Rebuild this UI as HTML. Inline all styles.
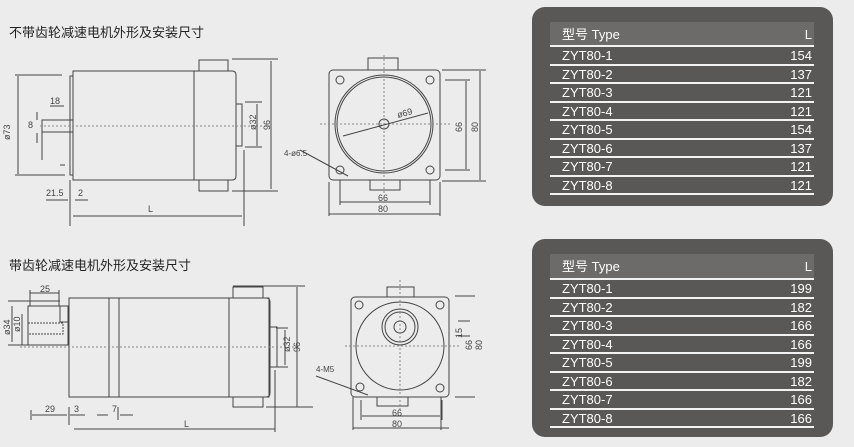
<!DOCTYPE html><html><head><meta charset="utf-8"><style>
body{margin:0;width:854px;height:447px;background:#ececec;position:relative;overflow:hidden;font-family:"Liberation Sans","Noto Sans CJK SC",sans-serif}
.t{position:absolute;font-size:13px;color:#222}
.box{position:absolute;left:532px;width:301px;background:#5a5856;border-radius:13px}
.hd{position:absolute;left:18px;width:264px;height:24px;background:#6c6b69;color:#fff;font-size:13px;line-height:26px}
.r{position:absolute;left:18px;width:264px;height:16px;border-top:2px solid #f2f2f2;color:#fff;font-size:13px;line-height:17px}
.r span,.hd span{position:absolute;right:2px}
.r b,.hd b{font-weight:normal;position:absolute;left:12px}
svg{position:absolute;left:0;top:0}
</style></head><body>
<div class="t" style="left:9px;top:22px">不带齿轮减速电机外形及安装尺寸</div>
<div class="t" style="left:9px;top:255px">带齿轮减速电机外形及安装尺寸</div>

<div class="box" style="top:7px;height:199px">
<div class="hd" style="top:15px"><b>型号 Type</b><span>L</span></div>
<div class="r" style="top:38px"><b>ZYT80-1</b><span>154</span></div>
<div class="r" style="top:56.5px"><b>ZYT80-2</b><span>137</span></div>
<div class="r" style="top:75px"><b>ZYT80-3</b><span>121</span></div>
<div class="r" style="top:93.5px"><b>ZYT80-4</b><span>121</span></div>
<div class="r" style="top:112px"><b>ZYT80-5</b><span>154</span></div>
<div class="r" style="top:130.5px"><b>ZYT80-6</b><span>137</span></div>
<div class="r" style="top:149px"><b>ZYT80-7</b><span>121</span></div>
<div class="r" style="top:167.5px"><b>ZYT80-8</b><span>121</span></div>
<div class="r" style="top:186px;height:0"></div>
</div>
<div class="box" style="top:239px;height:198px">
<div class="hd" style="top:15px"><b>型号 Type</b><span>L</span></div>
<div class="r" style="top:39px"><b>ZYT80-1</b><span>199</span></div>
<div class="r" style="top:57.5px"><b>ZYT80-2</b><span>182</span></div>
<div class="r" style="top:76px"><b>ZYT80-3</b><span>166</span></div>
<div class="r" style="top:94.5px"><b>ZYT80-4</b><span>166</span></div>
<div class="r" style="top:113px"><b>ZYT80-5</b><span>199</span></div>
<div class="r" style="top:131.5px"><b>ZYT80-6</b><span>182</span></div>
<div class="r" style="top:150px"><b>ZYT80-7</b><span>166</span></div>
<div class="r" style="top:168.5px"><b>ZYT80-8</b><span>166</span></div>
<div class="r" style="top:187px;height:0"></div>
</div>

<svg width="520" height="447" fill="none" stroke="#444" stroke-width="1" font-family="Liberation Sans" font-size="9">
<!-- top side view -->
<rect x="73" y="71" width="121" height="109"/>
<path d="M194 71H232Q236 71 236 75V176Q236 180 232 180H194"/>
<rect x="70" y="76" width="3" height="99"/>
<rect x="199" y="60" width="29" height="11"/><rect x="199" y="180" width="29" height="11"/>
<rect x="236" y="104" width="6" height="42"/>
<rect x="42" y="120" width="31" height="12"/>
<path d="M40 126H270" stroke-dasharray="2 2" stroke="#888"/>
<path d="M15 75H62M15 175H65M232 59H278M232 191H278M245 102H262M245 147H262M42 132V160M70 180V226M244 150V226M60 165H65"/>
<path d="M18 76V174M271 61V189M257 104V146M73 216H242M46 200H68M75 200H88M37 112V120M37 133V143M50 106H64"/>
<text x="10" y="140" transform="rotate(-90 10 140)" fill="#444" stroke="none">ø73</text>
<text x="28" y="128" fill="#444" stroke="none">8</text>
<text x="50" y="104" fill="#444" stroke="none">18</text>
<text x="46" y="196" fill="#444" stroke="none">21.5</text>
<text x="78" y="196" fill="#444" stroke="none">2</text>
<text x="148" y="212" fill="#444" stroke="none">L</text>
<text x="256" y="130" transform="rotate(-90 256 130)" fill="#444" stroke="none">ø32</text>
<text x="270" y="130" transform="rotate(-90 270 130)" fill="#444" stroke="none">96</text>
<!-- top front view -->
<rect x="329" y="70" width="111" height="110" rx="4"/>
<rect x="368" y="58" width="30" height="12"/><rect x="370" y="180" width="30" height="10"/>
<circle cx="384" cy="124" r="49"/><circle cx="384" cy="124" r="47"/><circle cx="384" cy="124" r="5"/>
<circle cx="340" cy="80" r="4"/><circle cx="430" cy="80" r="4"/><circle cx="340" cy="170" r="4"/><circle cx="430" cy="170" r="4"/>
<path d="M320 124H450M384 55V195" stroke-dasharray="2 2" stroke="#888"/>
<path d="M342 116L428 112M342 116L343 136" stroke="none"/>
<path d="M343 136L428 113M300 150L348 176"/>
<path d="M445 80H470M445 170H470M442 70H486M442 181H486M466 81V169M480 71V180M340 180V205M430 180V205M329 182V216M440 182V216M340 202H430M329 214H440"/>
<text x="398" y="118" transform="rotate(-15 398 118)" fill="#444" stroke="none">ø69</text>
<text x="284" y="156" fill="#444" stroke="none" font-size="8">4-ø6.5</text>
<text x="462" y="132" transform="rotate(-90 462 132)" fill="#444" stroke="none">66</text>
<text x="478" y="132" transform="rotate(-90 478 132)" fill="#444" stroke="none">80</text>
<text x="378" y="201" fill="#444" stroke="none">66</text>
<text x="378" y="212" fill="#444" stroke="none">80</text>
<!-- bottom side view -->
<rect x="69" y="298" width="200" height="99"/>
<path d="M109 298V397M119 298V397M229 298V397M229 298H266Q270 298 270 302V393Q270 397 266 397H229"/>
<rect x="233" y="287" width="30" height="11"/><rect x="233" y="397" width="30" height="10"/>
<rect x="270" y="327" width="7" height="40"/>
<rect x="28" y="306" width="40" height="39"/><rect x="60" y="306" width="9" height="16"/>
<rect x="28" y="323" width="35" height="11" stroke-dasharray="2 1"/>
<path d="M20 347H300" stroke-dasharray="2 2" stroke="#888"/>
<path d="M8 301H60M8 345H28M22 314V345M12 306V342M30 293H59M30 290V306M59 290V306M233 286H305M266 407H313M276 328H288M276 367H288M297 287V407M285 330V365M31 410V420M69 407V425M118 407V420M275 370V432M32 415H67M70 415H85M97 415H108M120 415H133M74 429H275"/>
<text x="40" y="292" fill="#444" stroke="none">25</text>
<text x="10" y="335" transform="rotate(-90 10 335)" fill="#444" stroke="none">ø34</text>
<text x="20" y="332" transform="rotate(-90 20 332)" fill="#444" stroke="none">ø10</text>
<text x="45" y="412" fill="#444" stroke="none">29</text>
<text x="74" y="412" fill="#444" stroke="none">3</text>
<text x="112" y="412" fill="#444" stroke="none">7</text>
<text x="184" y="427" fill="#444" stroke="none">L</text>
<text x="290" y="352" transform="rotate(-90 290 352)" fill="#444" stroke="none">ø32</text>
<text x="300" y="352" transform="rotate(-90 300 352)" fill="#444" stroke="none">96</text>
<!-- bottom front view -->
<rect x="351" y="297" width="98" height="100" rx="4"/>
<rect x="387" y="287" width="27" height="10"/><rect x="377" y="397" width="31" height="9"/>
<circle cx="400" cy="346" r="44"/><circle cx="400" cy="327" r="18"/><circle cx="400" cy="327" r="15"/><circle cx="400" cy="327" r="6"/>
<circle cx="359" cy="305" r="4"/><circle cx="440" cy="305" r="4"/><circle cx="360" cy="387" r="4"/><circle cx="440" cy="388" r="4"/>
<path d="M345 346H460M400 280V410" stroke-dasharray="2 2" stroke="#888"/>
<path d="M316 376L368 395M353 397V430M441 397V430M361 400V420M442 400V420M362 416H440M353 428H449M455 296H475M455 397H475M458 321H470M458 336H470"/>
<text x="316" y="372" fill="#444" stroke="none" font-size="8">4-M5</text>
<text x="392" y="416" fill="#444" stroke="none">66</text>
<text x="392" y="427" fill="#444" stroke="none">80</text>
<text x="462" y="338" transform="rotate(-90 462 338)" fill="#444" stroke="none">15</text>
<text x="472" y="350" transform="rotate(-90 472 350)" fill="#444" stroke="none">66</text>
<text x="482" y="350" transform="rotate(-90 482 350)" fill="#444" stroke="none">80</text>
</svg>
</body></html>
